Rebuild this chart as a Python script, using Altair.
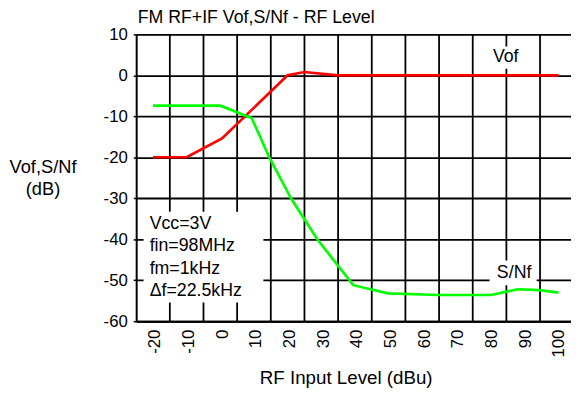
import altair as alt
import pandas as pd

# ---- data ----
vof_x = [-20, -10, 0.5, 20, 25, 35, 50, 60, 70, 80, 90, 100.5]
vof_y = [-20, -20, -15.4, 0, 0.8, 0, 0, 0, 0, 0, 0, 0]

sn_x = [-20, 0, 9.3, 14.6, 21, 28.8, 39.5, 49.8, 64.9, 80.5, 88.4, 94.7, 100.5]
sn_y = [-7.4, -7.4, -10.4, -20.1, -30, -40, -51.2, -53.2, -53.6, -53.6, -52.2, -52.4, -53.0]

x_labels = [-20, -10, 0, 10, 20, 30, 40, 50, 60, 70, 80, 90, 100]
x_grid = [-15, -5, 5, 15, 25, 35, 45, 55, 65, 75, 85, 95]
y_ticks = [10, 0, -10, -20, -30, -40, -50, -60]

cond_lines = ["Vcc=3V", "fin=98MHz", "fm=1kHz", "\u0394f=22.5kHz"]
title_text = "FM RF+IF Vof,S/Nf - RF Level"

FONT = "Liberation Sans"
XDOM = [-25, 104.2]
YDOM = [-60, 10]

df = pd.concat([
    pd.DataFrame({"x": vof_x, "y": vof_y, "s": "Vof"}),
    pd.DataFrame({"x": sn_x, "y": sn_y, "s": "S/Nf"}),
])

xs = alt.Scale(domain=XDOM, nice=False, zero=False)
ys = alt.Scale(domain=YDOM, nice=False, zero=False)

XT = "RF Input Level (dBu)"
YT = ["Vof,S/Nf", "(dB)"]

xaxis = alt.Axis(values=x_labels, labelAngle=270, ticks=False,
                 grid=False, labelPadding=8, labelFontSize=17,
                 labelFont=FONT, labelColor="black", labelOffset=2,
                 labelExpr="'' + datum.value",
                 domainColor="black", domainWidth=2,
                 titleFont=FONT, titleFontSize=19,
                 titleFontWeight="normal", titleColor="black",
                 titleX=212.5, titleY=63, titleBaseline="alphabetic",
                 titleAlign="center", labelFlush=False,
                 labelOverlap=False, labelBound=False)
yaxis = alt.Axis(values=y_ticks, tickSize=3, tickColor="black",
                 tickWidth=1.5, labelPadding=6, labelFontSize=17,
                 labelFont=FONT, labelColor="black",
                 labelExpr="'' + datum.value",
                 grid=True, gridColor="black", gridWidth=1.8,
                 gridOpacity=1,
                 domainColor="black", domainWidth=2,
                 titleAngle=0, titleFont=FONT, titleFontSize=18.5,
                 titleFontWeight="normal", titleColor="black",
                 titleX=-95, titleY=140, titleAlign="center",
                 titleBaseline="alphabetic", titleLineHeight=22,
                 labelFlush=False, labelOverlap=False)


def X(f):
    return alt.X(f, type="quantitative", scale=xs, axis=xaxis, title=XT)


def Y(f):
    return alt.Y(f, type="quantitative", scale=ys, axis=yaxis, title=YT)


lines = alt.Chart(df).mark_line(strokeWidth=2.7).encode(
    x=X("x"), y=Y("y"),
    color=alt.Color("s:N", scale=alt.Scale(domain=["Vof", "S/Nf"],
                                           range=["#ff0000", "#00ff00"]),
                    legend=None),
    detail="s:N")

grid = alt.Chart(pd.DataFrame({"g": x_grid})).mark_rule(
    color="black", strokeWidth=1.8
).encode(x=X("g"))

boxes = pd.DataFrame({
    "x1": [-22.8, 78.5, 80.0],
    "x2": [12.8, 90.5, 94.0],
    "y1": [-33.3, 1.6, -45.2],
    "y2": [-55.4, 7.0, -51.2],
})
box = alt.Chart(boxes).mark_rect(color="white").encode(
    x=X("x1"), x2="x2:Q", y=Y("y1"), y2="y2:Q")

labels = pd.DataFrame({"x": [84.8, 87.3], "y": [4.4, -48.2], "t": ["Vof", "S/Nf"]})
lab = alt.Chart(labels).mark_text(font=FONT, fontSize=18, color="black",
                                  baseline="middle", align="center").encode(
    x=X("x"), y=Y("y"), text="t:N")

cond = alt.Chart(pd.DataFrame({"x": [-21], "y": [-34.2]})).mark_text(
    text=cond_lines, font=FONT, fontSize=18, color="black", align="left",
    baseline="top", lineHeight=22.5).encode(x=X("x"), y=Y("y"))

ttl = alt.Chart(pd.DataFrame({"t": [title_text]})).mark_text(
    font=FONT, fontSize=18, color="black", align="left",
    baseline="alphabetic").encode(
    x=alt.value(1.5), y=alt.value(-11.6), text="t:N")

chart = alt.layer(grid, box, lines, lab, cond, ttl).properties(
    width=441, height=291,
    autosize=alt.AutoSizeParams(type="none"),
    padding={"left": 130, "top": 24, "right": 0, "bottom": 65},
).configure_view(strokeWidth=0).configure(background="white")

chart.save("out.html", embed_options={"renderer": "svg", "actions": False})
